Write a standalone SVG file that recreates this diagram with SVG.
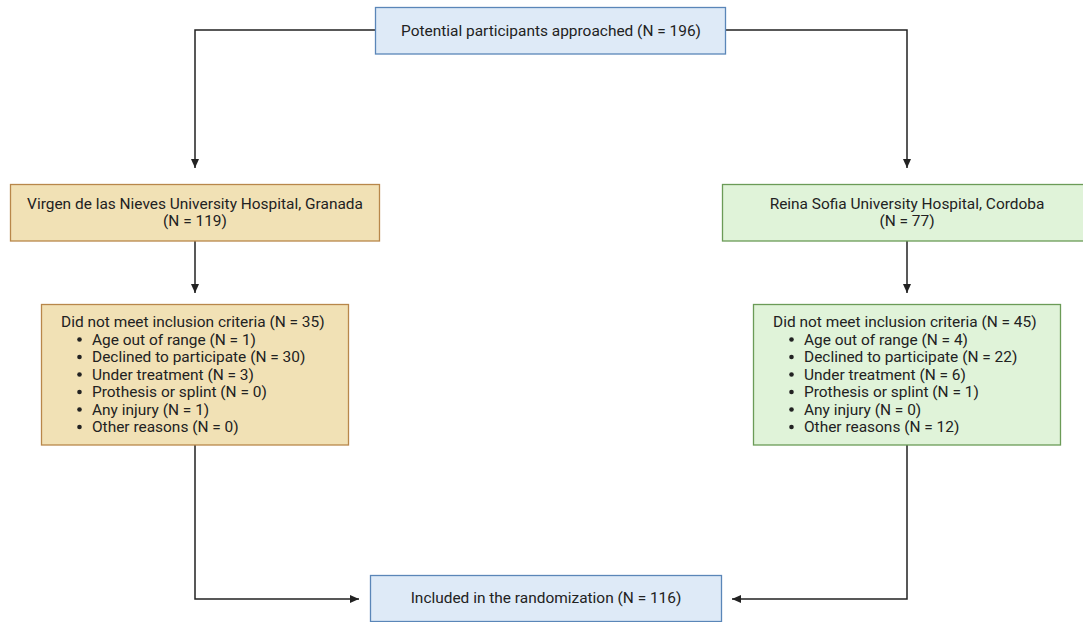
<svg xmlns="http://www.w3.org/2000/svg" width="1083" height="622" viewBox="0 0 1083 622">
<style>
text{font-family:Roboto,"Liberation Sans",sans-serif;font-size:15.45px;fill:#222;}
.blue{fill:#deeaf7;stroke:#5a86b8;stroke-width:1.3;}
.tan{fill:#f1e1b5;stroke:#b8874a;stroke-width:1.3;}
.green{fill:#e0f3d9;stroke:#6b9b57;stroke-width:1.3;}
.c{text-anchor:middle;}
.conn{fill:none;stroke:#222;stroke-width:1.5;}
</style>
<defs>
<marker id="arr" markerWidth="10" markerHeight="10" refX="9" refY="5" orient="auto" markerUnits="userSpaceOnUse">
<path d="M0,1 L9,5 L0,9 Z" fill="#222"/>
</marker>
</defs>
<g id="connectors">
<path class="conn" d="M375,30 H195 V168" marker-end="url(#arr)"/>
<path class="conn" d="M726,30 H907 V168" marker-end="url(#arr)"/>
<path class="conn" d="M195,241 V293" marker-end="url(#arr)"/>
<path class="conn" d="M907,241 V293" marker-end="url(#arr)"/>
<path class="conn" d="M195,445 V599 H359" marker-end="url(#arr)"/>
<path class="conn" d="M907,445 V599 H732" marker-end="url(#arr)"/>
</g>
<g id="potential">
<rect class="blue" x="375.5" y="7.5" width="350" height="46.5"/>
<text class="c" x="551" y="36">Potential participants approached (N = 196)</text>
</g>
<g id="granada">
<rect class="tan" x="10.5" y="184.5" width="369" height="56.5"/>
<text class="c" x="195" y="209">Virgen de las Nieves University Hospital, Granada</text>
<text class="c" x="195" y="225.5">(N = 119)</text>
</g>
<g id="cordoba">
<rect class="green" x="722.5" y="184.5" width="370" height="56.5"/>
<text class="c" x="907" y="209">Reina Sofia University Hospital, Cordoba</text>
<text class="c" x="907" y="225.5">(N = 77)</text>
</g>
<g id="granada-excluded">
<rect class="tan" x="41.5" y="304.5" width="307" height="140.5"/>
<text x="61" y="327">Did not meet inclusion criteria (N = 35)</text>
<g>
<circle cx="79.5" cy="339.5" r="2.3" fill="#222"/><text x="92" y="344.5">Age out of range (N = 1)</text>
<circle cx="79.5" cy="357" r="2.3" fill="#222"/><text x="92" y="362">Declined to participate (N = 30)</text>
<circle cx="79.5" cy="374.5" r="2.3" fill="#222"/><text x="92" y="379.5">Under treatment (N = 3)</text>
<circle cx="79.5" cy="392" r="2.3" fill="#222"/><text x="92" y="397">Prothesis or splint (N = 0)</text>
<circle cx="79.5" cy="409.5" r="2.3" fill="#222"/><text x="92" y="414.5">Any injury (N = 1)</text>
<circle cx="79.5" cy="427" r="2.3" fill="#222"/><text x="92" y="432">Other reasons (N = 0)</text>
</g>
</g>
<g id="cordoba-excluded">
<rect class="green" x="753.5" y="304.5" width="307" height="140.5"/>
<text x="773" y="327">Did not meet inclusion criteria (N = 45)</text>
<g>
<circle cx="791.5" cy="339.5" r="2.3" fill="#222"/><text x="804" y="344.5">Age out of range (N = 4)</text>
<circle cx="791.5" cy="357" r="2.3" fill="#222"/><text x="804" y="362">Declined to participate (N = 22)</text>
<circle cx="791.5" cy="374.5" r="2.3" fill="#222"/><text x="804" y="379.5">Under treatment (N = 6)</text>
<circle cx="791.5" cy="392" r="2.3" fill="#222"/><text x="804" y="397">Prothesis or splint (N = 1)</text>
<circle cx="791.5" cy="409.5" r="2.3" fill="#222"/><text x="804" y="414.5">Any injury (N = 0)</text>
<circle cx="791.5" cy="427" r="2.3" fill="#222"/><text x="804" y="432">Other reasons (N = 12)</text>
</g>
</g>
<g id="included">
<rect class="blue" x="370.5" y="575.5" width="351" height="46"/>
<text class="c" x="546" y="603">Included in the randomization (N = 116)</text>
</g>
</svg>
